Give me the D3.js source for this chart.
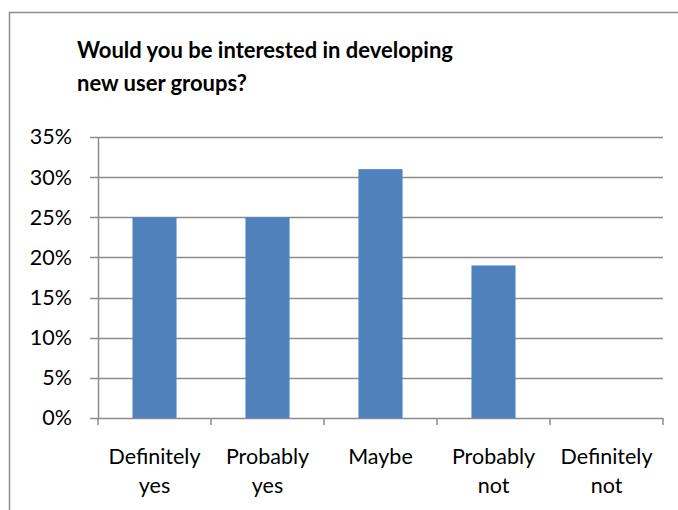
<!DOCTYPE html>
<html>
<head>
<meta charset="utf-8">
<script src="https://cdn.jsdelivr.net/npm/d3@7"></script>
<style>
  html, body { margin: 0; padding: 0; background: #fff; }
  svg { display: block; font-family: Lato, "Open Sans", sans-serif; }
</style>
</head>
<body>
<svg id="chart" width="678" height="510"></svg>
<script>
// Survey answers and the share of respondents for each
const categories = [["Definitely", "yes"], ["Probably", "yes"], ["Maybe"], ["Probably", "not"], ["Definitely", "not"]];
const shares = [25, 25, 31, 19, 0];
const yTicks = [0, 5, 10, 15, 20, 25, 30, 35];
const titleLines = ["Would you be interested in developing", "new user groups?"];

const svg = d3.select("#chart");
const plot = { left: 98, right: 663, top: 137, bottom: 418 };
const labelSize = 21.5;

// Chart frame (top and left edges visible)
svg.append("path")
  .attr("d", "M9.5,510 V12.5 H678")
  .attr("fill", "none")
  .attr("stroke", "#8c8c8c")
  .attr("stroke-width", 1.5);

// Title
svg.append("text")
  .attr("font-weight", "bold")
  .attr("font-size", 22)
  .attr("fill", "#000")
  .selectAll("tspan")
  .data(titleLines)
  .join("tspan")
  .attr("x", 77)
  .attr("y", (d, i) => 58 + i * 33)
  .text(d => d);

const x = d3.scaleBand()
  .domain(d3.range(categories.length))
  .range([plot.left, plot.right])
  .paddingInner(0.61)
  .paddingOuter(0.305);

const y = d3.scaleLinear()
  .domain([0, 35])
  .range([plot.bottom, plot.top]);

// Horizontal gridlines
svg.append("g")
  .selectAll("line")
  .data(yTicks)
  .join("line")
  .attr("x1", plot.left - 8)
  .attr("x2", plot.right)
  .attr("y1", d => Math.round(y(d)) + 0.5)
  .attr("y2", d => Math.round(y(d)) + 0.5)
  .attr("stroke", "#8c8c8c")
  .attr("stroke-width", 1.5);

// Y axis labels
const yAxis = d3.axisLeft(y)
  .tickValues(yTicks)
  .tickFormat(d => d + "%")
  .tickSize(0)
  .tickPadding(26);
const gy = svg.append("g")
  .attr("transform", `translate(${plot.left},0)`)
  .call(yAxis);
gy.select(".domain").remove();
gy.selectAll("text")
  .attr("font-family", "Lato, 'Open Sans', sans-serif")
  .attr("font-size", labelSize)
  .attr("fill", "#000");

// Vertical axis line
svg.append("line")
  .attr("x1", plot.left + 0.5).attr("x2", plot.left + 0.5)
  .attr("y1", plot.top).attr("y2", plot.bottom)
  .attr("stroke", "#8c8c8c")
  .attr("stroke-width", 1.5);

// Bars
svg.append("g")
  .selectAll("rect")
  .data(shares)
  .join("rect")
  .attr("x", (d, i) => x(i))
  .attr("width", x.bandwidth())
  .attr("y", d => y(d))
  .attr("height", d => y(0) - y(d))
  .attr("fill", "#4f81bd");

// Category tick marks on the bottom axis
const step = (plot.right - plot.left) / categories.length;
svg.append("g")
  .selectAll("line")
  .data(d3.range(categories.length + 1))
  .join("line")
  .attr("x1", i => plot.left + i * step)
  .attr("x2", i => plot.left + i * step)
  .attr("y1", plot.bottom)
  .attr("y2", plot.bottom + 7)
  .attr("stroke", "#8c8c8c")
  .attr("stroke-width", 1.5);

// Category labels
svg.append("g")
  .selectAll("text")
  .data(categories)
  .join("text")
  .attr("text-anchor", "middle")
  .attr("font-size", labelSize)
  .attr("fill", "#000")
  .each(function (lines, i) {
    d3.select(this).selectAll("tspan")
      .data(lines)
      .join("tspan")
      .attr("x", x(i) + x.bandwidth() / 2)
      .attr("y", (d, j) => 464 + j * 29)
      .text(d => d);
  });
</script>
</body>
</html>
